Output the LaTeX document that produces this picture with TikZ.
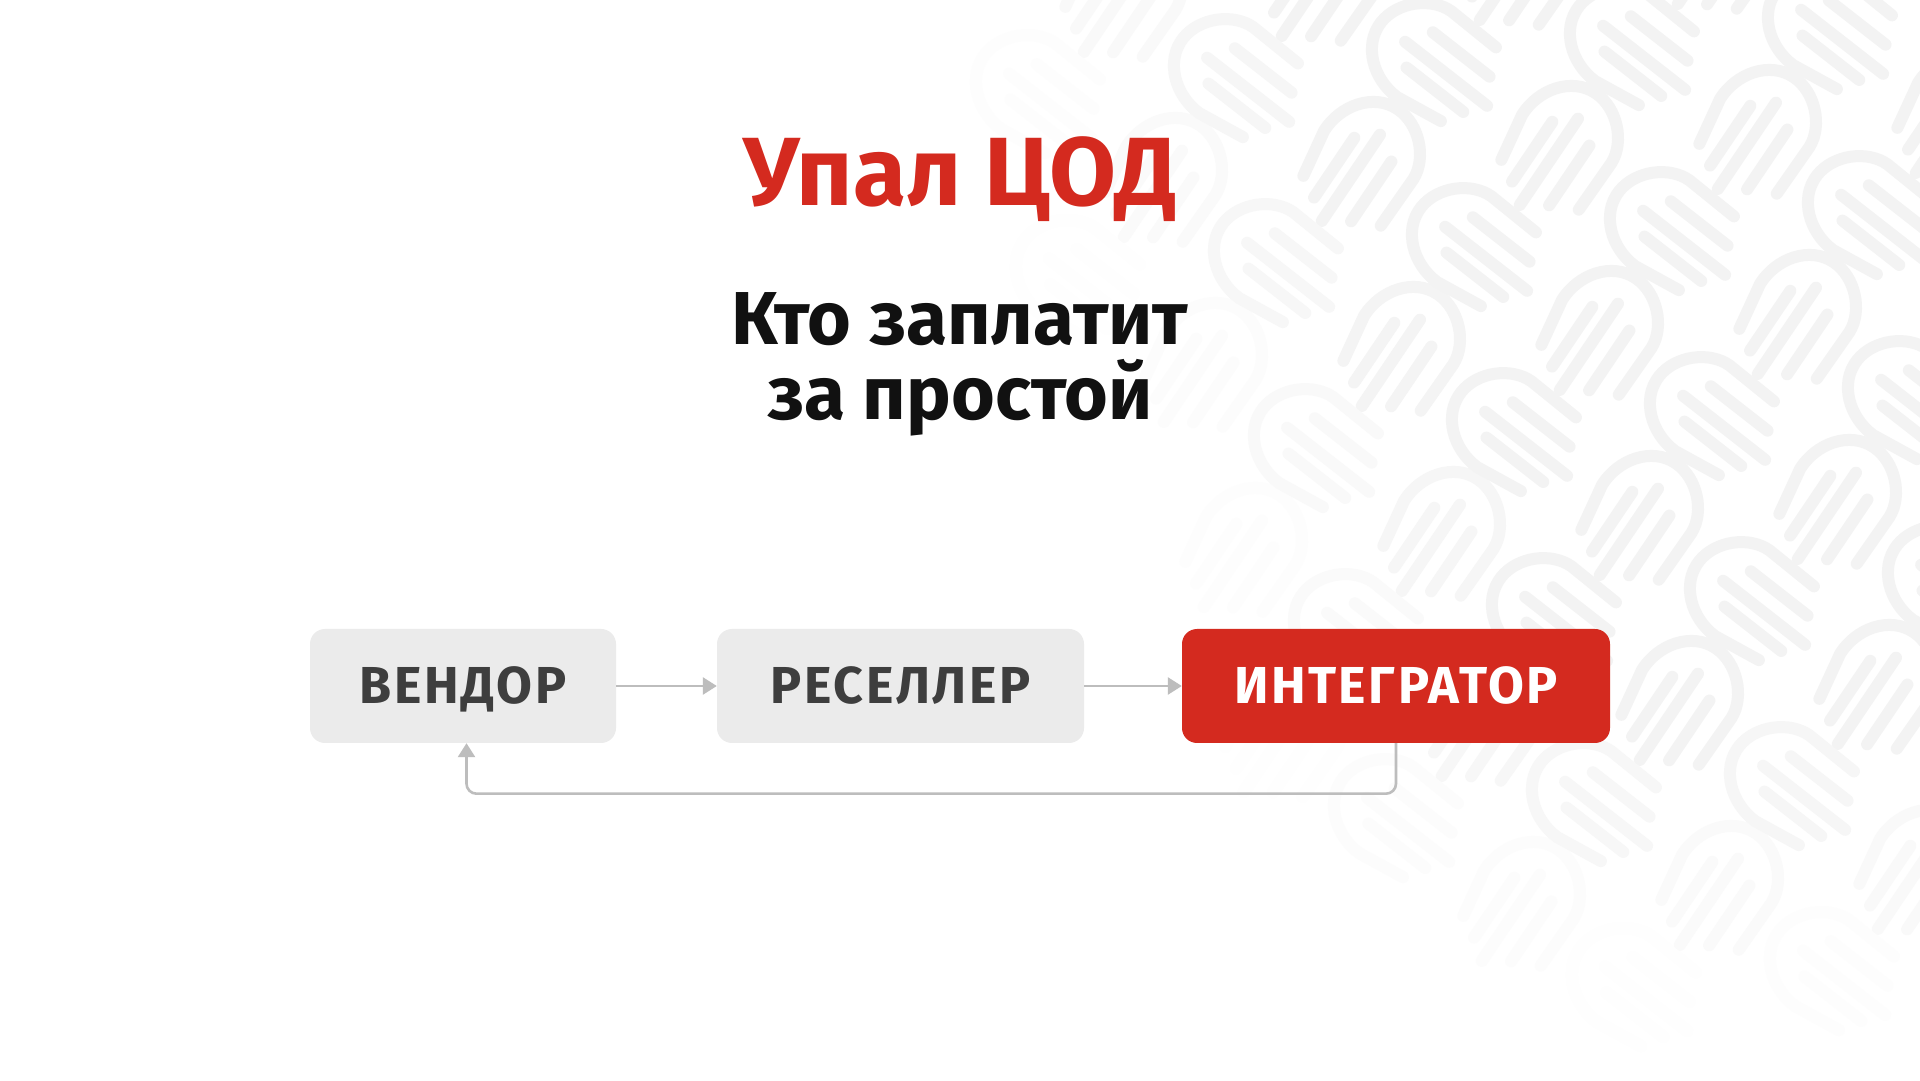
\documentclass[tikz,border=0pt]{standalone}
\usepackage{fontspec}
\setmainfont{Fira Sans}
\usetikzlibrary{arrows.meta}
\definecolor{titlered}{HTML}{D42A1F}
\definecolor{boxgray}{HTML}{EBEBEB}
\definecolor{boxtext}{HTML}{3E3E3E}
\definecolor{conncol}{HTML}{BDBDBD}
\definecolor{iconcol}{HTML}{F3F3F3}
\definecolor{subblack}{HTML}{111111}
\newfontfamily\boxfont[LetterSpace=5]{Fira Sans}
\tikzset{
  pics/hicon/.style={code={
    \draw (50,-37) -- (51,20) .. controls (50,45) and (25,69) .. (-1,69)
          .. controls (-30,69) and (-51,40) .. (-50,10) -- (-42,-39);
    \draw (-1.5,38) -- (-1.5,-66);
    \draw (23,22) -- (23,-50);
    \draw (-21,21) -- (-21,-51);
  }},
  iconstyle/.style={line width=12pt, line cap=round, line join=round},
  flowbox/.style={rectangle, rounded corners=15pt, minimum height=114pt,
    inner sep=0pt, text height=36pt, text depth=0pt,
    font=\boxfont\bfseries\fontsize{52}{52}\selectfont},
  graybox/.style={flowbox, fill=boxgray, text=boxtext},
  redbox/.style={flowbox, fill=titlered, text=white},
  conn/.style={draw=conncol, line width=2.6pt,
    -{Triangle[length=14pt,width=17pt]}}
}
\begin{document}
\begin{tikzpicture}[x=1pt,y=1pt]
\useasboundingbox (0,0) rectangle (1920,1080);
\fill[white] (0,0) rectangle (1920,1080);
% background watermark pattern
\begin{scope}
\clip (0,0) rectangle (1920,1080);
\foreach \i in {-1,...,5}{
  \foreach \j in {-1,...,5}{
    \foreach \ddx/\ddy/\rr in {0/0/52, 122/87/-34}{
      \pgfmathsetmacro{\X}{1040+198*\i+40*\j+\ddx}
      \pgfmathsetmacro{\Yi}{96-16*\i+185*\j+\ddy}
      \pgfmathsetmacro{\fa}{max(0,min(1,(\X-0.4*\Yi-950)/350))}
      \pgfmathsetmacro{\fb}{max(0,min(1,(1020-\Yi)/300))}
      \pgfmathtruncatemacro{\pct}{100*\fa*\fb}
      \ifnum\pct>1
        \pic[iconstyle, color=iconcol!\pct!white, rotate=\rr] at (\X,1080-\Yi) {hicon};
      \fi
    }
  }
}
\end{scope}
% texts
\node[anchor=base, text=titlered, font=\bfseries\fontsize{97}{97}\selectfont] (title) at (960,874) {Упал ЦОД};
\node[anchor=base, text=subblack, font=\bfseries\fontsize{75}{75}\selectfont] (sub1) at (960,735) {Кто заплатит};
\node[anchor=base, text=subblack, font=\bfseries\fontsize{75}{75}\selectfont] (sub2) at (960,660) {за простой};
% flow
\node[graybox, minimum width=306pt] (vend) at (463,394) {ВЕНДОР};
\node[graybox, minimum width=367pt] (resel) at (900.5,394) {РЕСЕЛЛЕР};
\node[redbox, minimum width=428pt] (integ) at (1396,394) {ИНТЕГРАТОР};
\draw[conn] (vend.east) -- (resel.west);
\draw[conn] (resel.east) -- (integ.west);
\draw[conn, rounded corners=10pt] (integ.south) -- ++(0,-50.5) -| ([xshift=3.5pt]vend.south);
\end{tikzpicture}
\end{document}
